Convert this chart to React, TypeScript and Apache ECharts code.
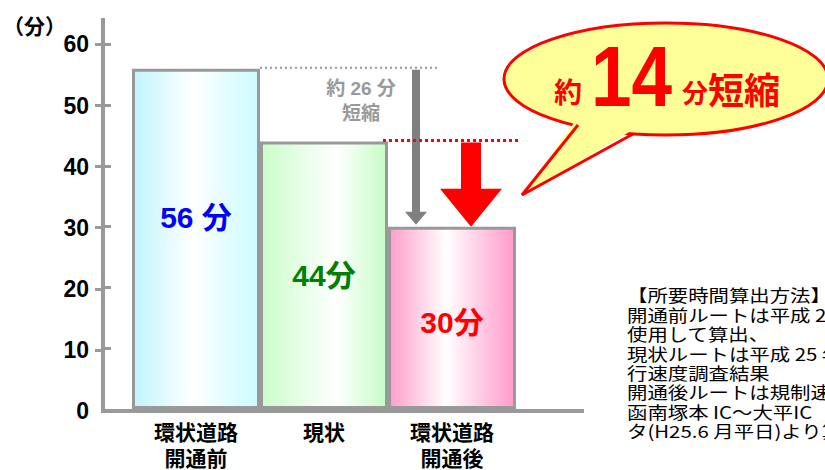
import React, { useEffect, useRef } from "react";
import * as echarts from "echarts";

const categories = ["環状道路\n開通前", "現状", "環状道路\n開通後"];
const values = [56, 44, 30];
const unitSuffix = [" 分", "分", "分"];
const yTickValues = [0, 10, 20, 30, 40, 50, 60];
const yTickMarks = [10, 20, 30, 40, 50, 60];
const yUnit = "（分）";
const methodLines = [
  "【所要時間算出方法】",
  "開通前ルートは平成 2",
  "使用して算出、",
  "現状ルートは平成 25 年",
  "行速度調査結果",
  "開通後ルートは規制速",
  "函南塚本 IC～大平IC",
  "タ(H25.6 月平日)より算",
];

const FONT_LATIN = '"Liberation Sans", "Noto Sans CJK JP", sans-serif';
const FONT_JP = '"Noto Sans CJK JP", sans-serif';
const AXIS_GRAY = "#999999";

const labelColors = ["#0000ff", "#008000", "#ff0000"];
const gradientStops = [
  ["#c0f5fd", "#ffffff", "#cbfbff"],
  ["#cafdca", "#ffffff", "#c6fcc6"],
  ["#ff9dcb", "#ffffff", "#ff9acb"],
];
const whitePos = [0.48, 0.6, 0.45];
const labelOffsetY = [-21, 0, 5];

export default function App() {
  const ref = useRef<HTMLDivElement>(null);

  useEffect(() => {
    document.body.style.margin = "0";
    const el = ref.current;
    if (!el) return;
    const chart = echarts.init(el, null, { renderer: "svg", width: 825, height: 470 });

    const option: any = {
      animation: false,
      backgroundColor: "#ffffff",
      grid: [
        { left: 132, right: 309, top: 20, bottom: 59 },
        { left: 103, right: 243, top: 20, bottom: 59 },
      ],
      xAxis: [
        {
          gridIndex: 0,
          type: "category",
          data: categories,
          axisLine: { show: false },
          axisTick: { show: false },
          axisLabel: {
            color: "#000000",
            fontWeight: "bold",
            fontSize: 21,
            lineHeight: 26,
            margin: 9,
            fontFamily: FONT_JP,
            interval: 0,
          },
          splitLine: { show: false },
        },
        {
          gridIndex: 1,
          type: "value",
          min: 0,
          max: 1,
          position: "bottom",
          axisLine: { show: true, onZero: false, lineStyle: { color: AXIS_GRAY, width: 4, cap: "square" } },
          axisTick: { show: false },
          axisLabel: { show: false },
          splitLine: { show: false },
        },
      ],
      yAxis: [
        {
          gridIndex: 0,
          type: "value",
          min: 0,
          max: 64,
          position: "left",
          offset: 29,
          axisLine: { show: false },
          axisTick: {
            show: true,
            inside: true,
            length: 8,
            lineStyle: { color: AXIS_GRAY, width: 3 },
            customValues: yTickMarks,
          },
          axisLabel: { show: false },
          splitLine: { show: false },
        },
        {
          gridIndex: 1,
          type: "value",
          min: 0,
          max: 64,
          position: "left",
          axisLine: { show: true, onZero: false, lineStyle: { color: AXIS_GRAY, width: 4, cap: "square" } },
          axisTick: {
            show: true,
            length: 8,
            lineStyle: { color: AXIS_GRAY, width: 3 },
            customValues: yTickMarks,
          },
          axisLabel: {
            customValues: yTickValues,
            color: "#000000",
            fontWeight: "bold",
            fontSize: 23,
            fontFamily: FONT_LATIN,
            margin: 14,
          },
          splitLine: { show: false },
        },
      ],
      series: [
        {
          type: "bar",
          xAxisIndex: 0,
          yAxisIndex: 0,
          barCategoryGap: "0%",
          data: values.map((v, i) => ({
            value: v,
            itemStyle: {
              color: {
                type: "linear",
                x: 0,
                y: 0,
                x2: 1,
                y2: 0,
                colorStops: [
                  { offset: 0, color: gradientStops[i][0] },
                  { offset: whitePos[i], color: gradientStops[i][1] },
                  { offset: 1, color: gradientStops[i][2] },
                ],
              },
              borderColor: AXIS_GRAY,
              borderWidth: 3,
            },
            label: {
              show: true,
              position: "inside",
              formatter: `{c}${unitSuffix[i]}`,
              color: labelColors[i],
              fontSize: 30,
              fontWeight: "bold",
              fontFamily: FONT_LATIN,
              offset: [0, labelOffsetY[i]],
            },
          })),
        },
      ],
    };
    chart.setOption(option);

    const yPx = (v: number) => chart.convertToPixel({ yAxisIndex: 0 }, v) as number;
    const xPx = (i: number) => chart.convertToPixel({ xAxisIndex: 0 }, i) as number;
    const band = xPx(1) - xPx(0);

    const yFirst = yPx(values[0]);
    const yMid = yPx(values[1]);
    const yLast = yPx(values[2]);
    const bar3Left = xPx(2) - band / 2;
    const bar3Right = xPx(2) + band / 2;

    const gx = bar3Left + 28;
    const gTop = yFirst + 1;
    const gTip = yLast - 2;
    const grayArrow = [
      [gx - 4, gTop],
      [gx + 4, gTop],
      [gx + 4, gTip - 13],
      [gx + 11, gTip - 13],
      [gx, gTip],
      [gx - 11, gTip - 13],
      [gx - 4, gTip - 13],
    ];
    const rx = xPx(2) + 19;
    const rTop = yMid + 1;
    const rTip = yLast;
    const redArrow = [
      [rx - 10, rTop],
      [rx + 10, rTop],
      [rx + 10, rTip - 38],
      [rx + 31, rTip - 38],
      [rx, rTip],
      [rx - 31, rTip - 38],
      [rx - 10, rTip - 38],
    ];

    const bubbleFill = "#ffff99";
    const red = "#ff0000";

    chart.setOption({
      graphic: [
        {
          type: "text",
          x: 3,
          y: 25,
          z: 100,
          style: {
            text: yUnit,
            fill: "#000",
            font: `bold 21px ${FONT_JP}`,
            align: "left",
            verticalAlign: "middle",
          },
        },
        {
          type: "line",
          z: 100,
          shape: { x1: xPx(0) + band / 2, y1: yFirst - 1, x2: bar3Left + 52, y2: yFirst - 1 },
          style: { stroke: AXIS_GRAY, lineWidth: 2, lineDash: [2, 3] },
        },
        {
          type: "text",
          x: xPx(1) + 37,
          y: yFirst + 32,
          z: 100,
          style: {
            text: `約 ${values[0] - values[2]} 分\n短縮`,
            fill: "#999999",
            font: `bold 19px ${FONT_LATIN}`,
            lineHeight: 25,
            align: "center",
            verticalAlign: "middle",
          },
        },
        {
          type: "polygon",
          z: 100,
          shape: { points: grayArrow },
          style: { fill: "#808080" },
        },
        {
          type: "line",
          z: 100,
          shape: { x1: bar3Left - 5, y1: yMid - 1, x2: bar3Right + 5, y2: yMid - 1 },
          style: { stroke: red, lineWidth: 3, lineDash: [3, 3] },
        },
        {
          type: "polygon",
          z: 100,
          shape: { points: redArrow },
          style: { fill: red },
        },
        {
          type: "ellipse",
          z: 100,
          shape: { cx: 666, cy: 79, rx: 162, ry: 56 },
          style: { fill: bubbleFill, stroke: red, lineWidth: 3 },
        },
        {
          type: "polygon",
          z: 101,
          shape: { points: [[576, 120], [522, 195], [636, 128]] },
          style: { fill: bubbleFill },
        },
        {
          type: "polyline",
          z: 102,
          shape: { points: [[578, 125], [522, 195], [633, 134]] },
          style: { stroke: red, lineWidth: 3, fill: null, lineJoin: "miter" },
        },
        {
          type: "text",
          x: 554,
          y: 91,
          z: 103,
          style: { text: "約", fill: red, font: `bold 28px ${FONT_JP}`, align: "left", verticalAlign: "middle" },
        },
        {
          type: "text",
          x: 591,
          y: 76,
          scaleY: 1.18,
          z: 103,
          style: {
            text: String(values[1] - values[2]),
            fill: red,
            font: `bold 73px "Liberation Sans", sans-serif`,
            align: "left",
            verticalAlign: "middle",
          },
        },
        {
          type: "text",
          x: 682,
          y: 91,
          z: 103,
          style: { text: "分", fill: red, font: `bold 26px ${FONT_JP}`, align: "left", verticalAlign: "middle" },
        },
        {
          type: "text",
          x: 708,
          y: 88,
          z: 103,
          style: { text: "短縮", fill: red, font: `bold 36px ${FONT_JP}`, align: "left", verticalAlign: "middle" },
        },
        {
          type: "text",
          x: 627,
          y: 285,
          scaleX: 1.2,
          z: 100,
          style: {
            text: methodLines.join("\n"),
            fill: "#000",
            font: `17px ${FONT_JP}`,
            lineHeight: 19.4,
            align: "left",
            verticalAlign: "top",
          },
        },
      ],
    });

    return () => chart.dispose();
  }, []);

  return (
    <div
      ref={ref}
      style={{ position: "absolute", left: 0, top: 0, width: 825, height: 470, overflow: "hidden" }}
    />
  );
}
